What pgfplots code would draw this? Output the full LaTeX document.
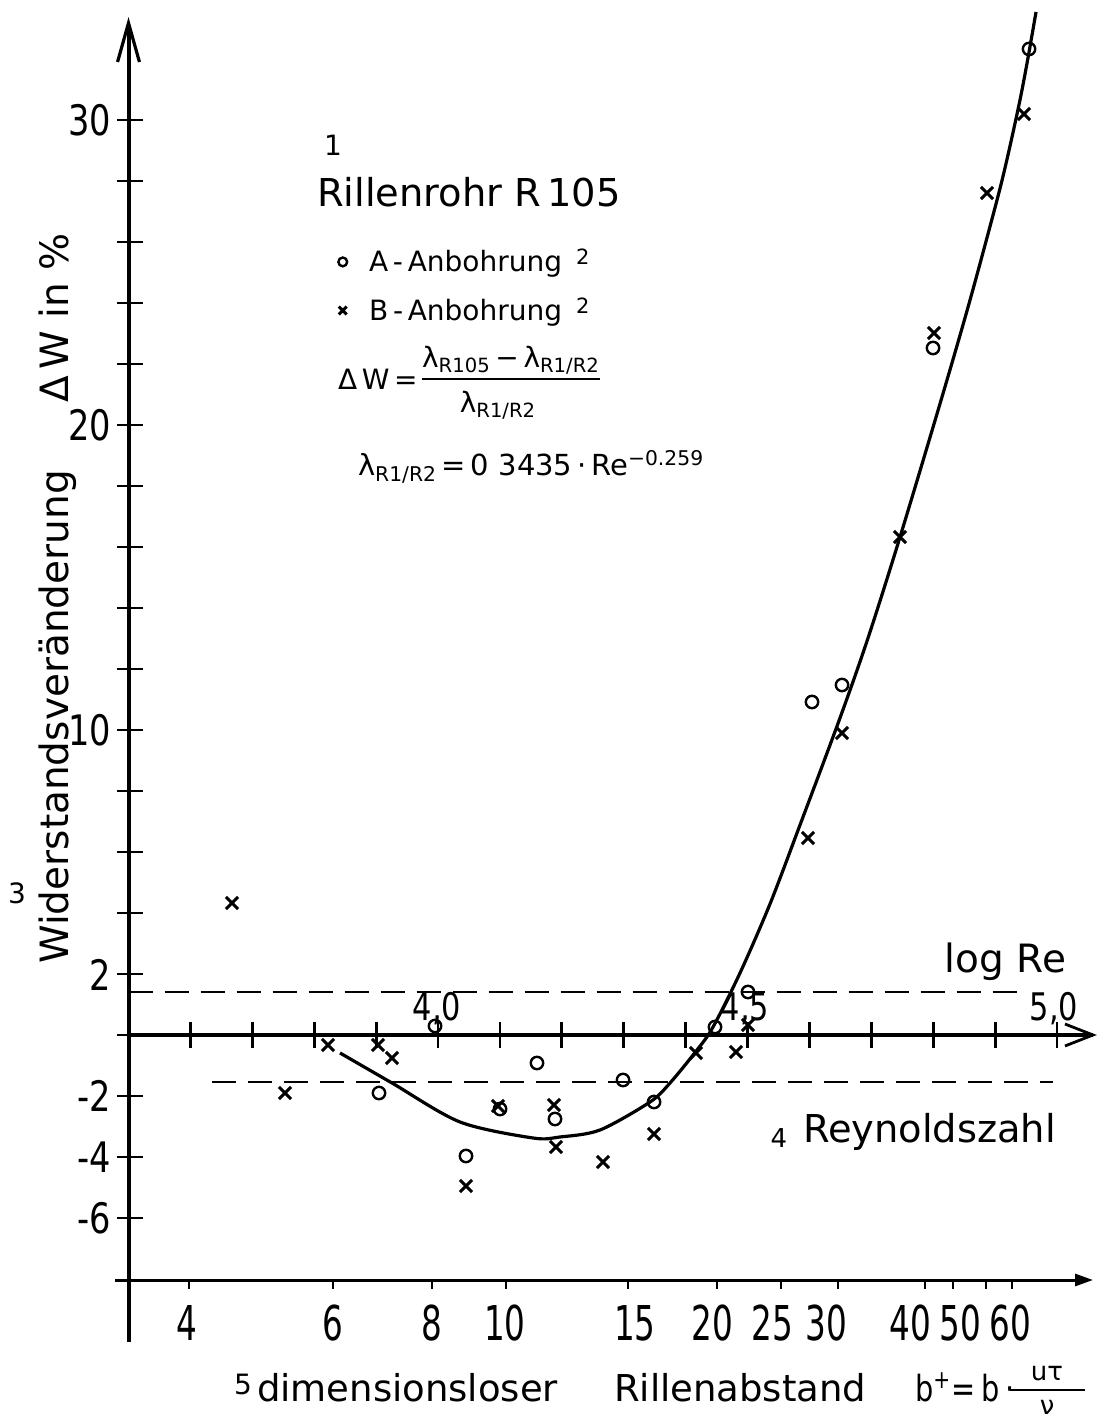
\documentclass[border=0pt]{standalone}
\usepackage{fontspec}
\setmainfont{DejaVu Sans}
\newfontfamily\numfont[FakeStretch=0.8]{DejaVu Sans}
\newfontfamily\numfontb[FakeStretch=0.68]{DejaVu Sans}
\usepackage{pgfplots}
\pgfplotsset{compat=1.18}
\usetikzlibrary{arrows.meta}
\pgfplotsset{
  legimgA/.style={legend image code/.code={\draw[##1, mark size=2.2pt] plot coordinates {(0pt,0pt)};}},
  legimgB/.style={legend image code/.code={\draw[##1, mark size=2.8pt] plot coordinates {(0pt,0pt)};}}}

\pgfplotstableread{
x y
3.9952 0.295
3.9047 -1.902
4.1599 -0.918
4.1002 -2.426
4.1890 -2.754
4.0452 -3.967
4.2989 -1.475
4.3490 -2.197
4.4475 0.262
4.5008 1.410
4.6042 10.918
4.6527 11.475
4.7997 22.525
4.9548 32.328
}\dataA

\pgfplotstableread{
x y
3.6672 4.328
3.7528 -1.902
3.8223 -0.328
3.9031 -0.328
3.9257 -0.754
4.0969 -2.328
4.1874 -2.295
4.1906 -3.672
4.0452 -4.951
4.2666 -4.164
4.3490 -3.246
4.4168 -0.590
4.4814 -0.557
4.5008 0.328
4.5977 6.459
4.6527 9.902
4.7464 16.328
4.8013 23.016
4.8869 27.607
4.9467 30.197
}\dataB

\pgfplotstableread{
x y
3.8417 -0.590
3.9257 -1.574
4.0355 -2.852
4.1535 -3.377
4.1971 -3.344
4.2617 -3.115
4.3425 -2.197
4.3748 -1.574
4.4184 -0.492
4.4443 0.262
4.4879 2.033
4.5363 4.295
4.5848 6.885
4.6494 10.393
4.6947 13.016
4.7464 16.328
4.8142 20.918
4.8595 24.098
4.9031 27.377
4.9208 28.852
4.9402 30.656
4.9531 32.033
4.9661 33.541
}\dataFit

\begin{document}
\begin{tikzpicture}
\begin{axis}[
  at={(0pt,0pt)}, anchor=south west,
  scale only axis, width=548.5pt, height=712pt,
  xmin=3.29241, xmax=5.06462, ymin=-12.7541, ymax=33.9344,
  axis lines=none, clip=false,
  legend style={draw=none, fill=none, at={(axis cs:3.8384,24.55)}, anchor=west,
    font=\fontsize{14}{17}\selectfont, inner sep=0pt, row sep=7.5pt,
    cells={anchor=west},
    /tikz/every odd column/.append style={column sep=9pt}},
]
% y axis
\draw[line width=2pt] (3.5,-10.066) -- (3.5,33.1);
\draw[line width=1.6pt] (3.4823,31.9) -- (3.5,33.18) -- (3.5177,31.9);
\pgfplotsinvokeforeach{-6,-4,-2,0,2,4,6,8,10,12,14,16,18,20,22,24,26,28,30}{
  \draw[line width=1.4pt] (3.4814,#1) -- (3.5234,#1);
}
% log Re axis
\draw[line width=2pt] (3.5,0) -- (5.0582,0);
\draw[line width=1.4pt] (5.0129,0.36) -- (5.0582,0) -- (5.0129,-0.36);
\pgfplotsinvokeforeach{3.6,3.7,3.8,3.9,4.0,4.1,4.2,4.3,4.4,4.5,4.6,4.7,4.8,4.9,5.0}{
  \draw[line width=1.4pt] (#1,-0.43) -- (#1,0.43);
}
% dashed band
\draw[line width=1.2pt, dash pattern=on 12pt off 6pt] (3.5,1.41) -- (4.953,1.41);
\draw[line width=1.2pt, dash pattern=on 12pt off 6pt] (3.6349,-1.541) -- (4.9935,-1.541);
% b+ axis
\draw[line width=1.5pt, -{Triangle[length=9pt,width=6pt]}] (3.4782,-8.033) -- (5.0582,-8.033);
\pgfplotsinvokeforeach{3.5977,3.8304,3.9903,4.1099,4.3069,4.4507,4.5541,4.6462,4.7868,4.8320,4.8853,4.9273}{
  \draw[line width=1.2pt] (#1,-8.033) -- (#1,-8.33);
}
% data
\addplot[only marks, mark=o, mark size=3.1pt, mark options={line width=1.2pt}, legimgA]
  table[x=x,y=y] {\dataA};
\addplot[only marks, mark=x, mark size=4.3pt, mark options={line width=1.5pt}, legimgB]
  table[x=x,y=y] {\dataB};
\addplot[smooth, tension=0.5, line width=1.6pt] table[x=x,y=y] {\dataFit};
\legend{A\,-\,Anbohrung\hspace{7pt}\raisebox{3.5pt}{\fontsize{10.5}{12}\selectfont 2},
        B\,-\,Anbohrung\hspace{7pt}\raisebox{3.5pt}{\fontsize{10.5}{12}\selectfont 2}}
\end{axis}

\begin{scope}[shift={(0pt,712pt)}, x=0.5pt, y=-0.5pt]
\tikzset{t/.style={inner sep=0pt, outer sep=0pt}}
% y tick labels
\foreach \v/\p in {30/120,20/425,10/730,2/975,-2/1096,-4/1157,-6/1218}
  \node[t, anchor=east, font=\numfont\fontsize{21}{25}\selectfont] at (111,\p) {\v};
% log Re tick labels
\foreach \v/\p in {{4,0}/437,{4,5}/745,{5,0}/1054}
  \node[t, anchor=base, font=\numfont\fontsize{19}{22}\selectfont] at (\p,1021) {\v};
% b+ tick labels
\foreach \v/\p in {4/187,6/333,8/432,10/505,15/635,20/712,25/772,30/826,40/910,50/960,60/1010}
  \node[t, anchor=base, font=\numfontb\fontsize{24}{28}\selectfont] at (\p,1341) {\v};
% axis titles
\node[t, rotate=90, anchor=base, font=\fontsize{19.5}{23}\selectfont] at (68,717) {Widerstandsveränderung};
\node[t, rotate=90, anchor=base, font=\fontsize{19.5}{23}\selectfont] at (68,318) {Δ\,W in \%};
\node[t, font=\fontsize{14}{16}\selectfont] at (17,893) {3};
\node[t, anchor=base east, font=\fontsize{19.5}{23}\selectfont] at (1066,973) {log Re};
\node[t, font=\fontsize{13}{15}\selectfont] at (779,1138) {4};
\node[t, anchor=base west, font=\fontsize{19.2}{23}\selectfont] at (803,1143) {Reynoldszahl};
\node[t, font=\fontsize{14}{16}\selectfont] at (243,1384) {5};
\node[t, anchor=base west, font=\fontsize{18.5}{21}\selectfont] at (257,1401) {dimensionsloser};
\node[t, anchor=base west, font=\fontsize{18.5}{21}\selectfont] at (614,1401) {Rillenabstand};
\node[t, anchor=base west, font=\numfont\fontsize{18}{21}\selectfont] at (915,1401) {b\textsuperscript{+}=\,b\,·};
\node[t, anchor=base, font=\fontsize{13}{15}\selectfont] at (1047,1381) {uτ};
\draw[line width=1pt] (1010,1390) -- (1085,1390);
\node[t, anchor=base, font=\fontsize{13}{15}\selectfont] at (1047,1414) {ν};
% legend block
\node[t, font=\fontsize{14}{16}\selectfont] at (333,145) {1};
\node[t, anchor=base west, font=\fontsize{19.2}{23}\selectfont] at (317,207) {Rillenrohr R\,105};
\node[t, anchor=west, font=\fontsize{14}{17}\selectfont] at (338,379) {Δ\,W\,=};
\node[t, anchor=base, font=\fontsize{14}{17}\selectfont] at (511,368) {λ\textsubscript{R105}\,−\,λ\textsubscript{R1/R2}};
\draw[line width=1pt] (422,379) -- (600,379);
\node[t, anchor=base, font=\fontsize{14}{17}\selectfont] at (498,413) {λ\textsubscript{R1/R2}};
\node[t, anchor=base west, font=\fontsize{14.5}{17}\selectfont] at (358,476) {λ\textsubscript{R1/R2}\,=\,0 3435\,·\,Re\textsuperscript{−0.259}};
\end{scope}
\pgfresetboundingbox
\path[use as bounding box] (0pt,0pt) rectangle (548.5pt,712pt);
\end{tikzpicture}
\end{document}
